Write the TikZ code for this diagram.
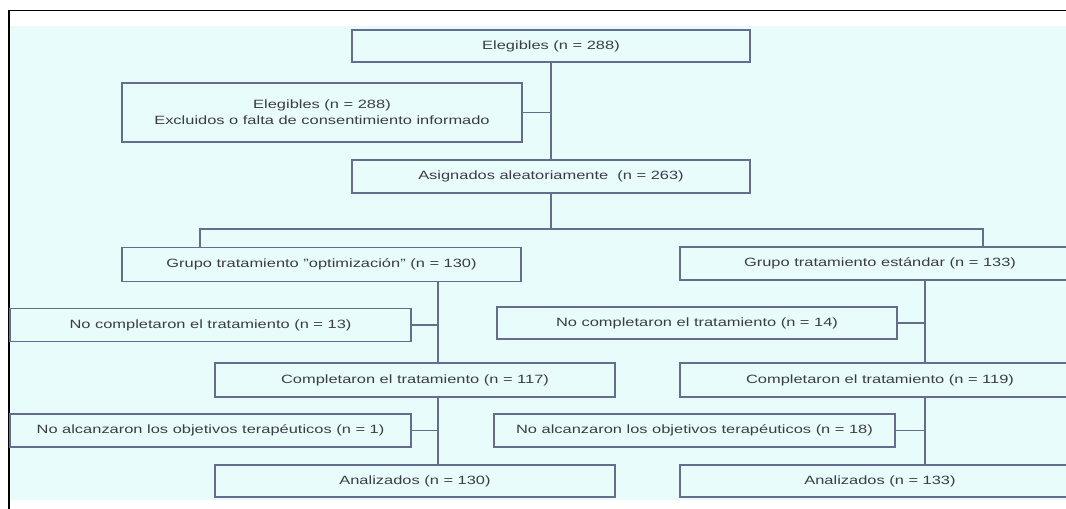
\documentclass[tikz,border=0pt]{standalone}
\usepackage{fontspec}
\setmainfont{Liberation Sans}[FakeStretch=1.37]
\definecolor{panel}{RGB}{232,252,252}
\definecolor{edge}{RGB}{100,110,140}
\definecolor{ink}{RGB}{60,60,70}
\begin{document}
\begin{tikzpicture}[x=0.75pt,y=-0.75pt,
 box/.style={draw=edge, line width=1.1pt, fill=panel, inner sep=0pt, align=center, text=ink,
   font=\fontsize{9}{12}\selectfont, minimum height=33*0.75pt, minimum width=400*0.75pt},
 wd/.style={minimum width=#1*0.75pt},
 ht/.style={minimum height=#1*0.75pt},
 link/.style={draw=edge, line width=1.3pt}]
\useasboundingbox (0,0) rectangle (1066,509);
\clip (0,0) rectangle (1066,509);
\fill[white] (0,0) rectangle (1066,509);
\fill[panel] (10,26) rectangle (1066,500);
\draw[black, line width=1.1pt] (9,515) -- (9,10.5) -- (1075,10.5);

\node[box, wd=398, ht=32] (elig) at (551,46) {Elegibles (n = 288)};
\node[box, wd=400, ht=59] (excl) at (322,112.5) {Elegibles (n = 288)\\Excluidos o falta de consentimiento informado};
\node[box, wd=398] (asig) at (551,176.5) {Asignados aleatoriamente \ (n = 263)};

\node[box, wd=399, ht=34] (gopt) at (321.5,264.5) {Grupo tratamiento "optimización" (n = 130)};
\node[box] (gest) at (880,263.5) {Grupo tratamiento estándar (n = 133)};

\node[box, wd=401] (nc1) at (210.5,325) {No completaron el tratamiento (n = 13)};
\node[box, ht=32] (nc2) at (697,323) {No completaron el tratamiento (n = 14)};

\node[box, ht=34] (comp1) at (415,380) {Completaron el tratamiento (n = 117)};
\node[box, ht=34] (comp2) at (880,380) {Completaron el tratamiento (n = 119)};

\node[box, wd=401] (na1) at (210.5,430.5) {No alcanzaron los objetivos terapéuticos (n = 1)};
\node[box, wd=401] (na2) at (694.5,430.5) {No alcanzaron los objetivos terapéuticos (n = 18)};

\node[box, ht=32] (an1) at (415,481) {Analizados (n = 130)};
\node[box, ht=32] (an2) at (880,481) {Analizados (n = 133)};

\draw[link] (elig.south) -- (asig.north);
\draw[link] (excl.east) -- (excl.east -| elig.south);
\coordinate (bl) at (200,229);
\coordinate (br) at (983,229);
\draw[link] (asig.south) -- (asig.south |- bl);
\draw[link] (bl |- gopt.north) -- (bl) -- (br) -- (br |- gest.north);
\coordinate (lt) at (438,0);
\coordinate (rt) at (925,0);
\draw[link] (lt |- gopt.south) -- (lt |- comp1.north);
\draw[link] (nc1.east) -- (nc1.east -| lt);
\draw[link] (lt |- comp1.south) -- (lt |- an1.north);
\draw[link] (na1.east) -- (na1.east -| lt);
\draw[link] (rt |- gest.south) -- (rt |- comp2.north);
\draw[link] (nc2.east) -- (nc2.east -| rt);
\draw[link] (rt |- comp2.south) -- (rt |- an2.north);
\draw[link] (na2.east) -- (na2.east -| rt);
\end{tikzpicture}
\end{document}
